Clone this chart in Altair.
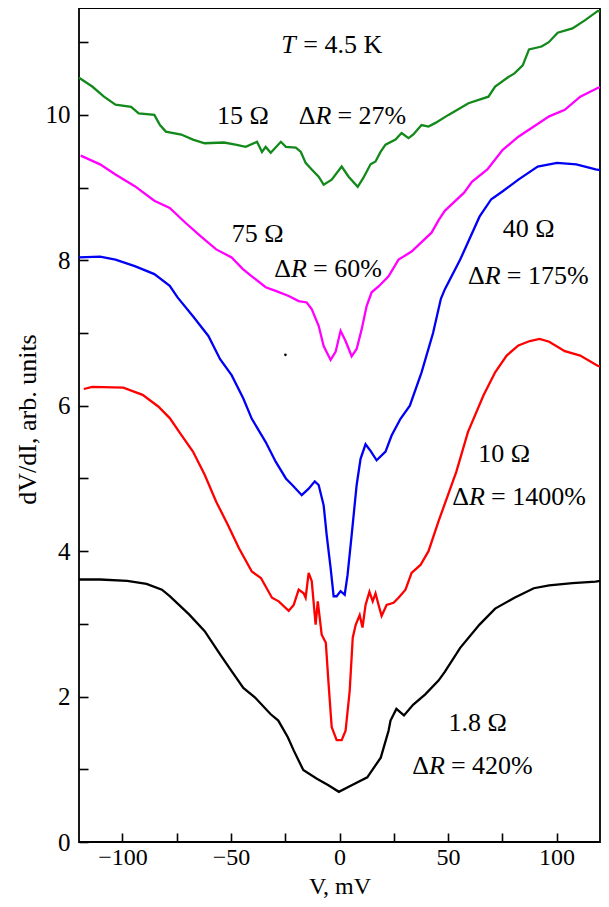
import altair as alt
import pandas as pd

# ---- data (V in mV, dV/dI in arb. units) ----
V_15 = [-120, -113.9, -108.5, -103.2, -96.0, -92.5, -85.3, -82.7, -80.0, -72.9, -67.5, -62.1, -53.2, -47.9,
        -43.2, -38.0, -35.7, -34.0, -31.7, -27.0, -24.7, -20.1, -17.8, -15.6, -12.8, -9.6, -7.3, -3.6, 1.0,
        4.2, 8.4, 11.1, 14.3, 16.6, 18.9, 21.2, 25.8, 28.6, 31.8, 34.0, 37.8, 41.0, 44.2, 50.2, 59.4, 68.6,
        71.7, 77.8, 80.6, 84.4, 87.3, 93.1, 96.4, 100.5, 107.3, 113.0, 119.0, 120]
Y_15 = [10.51, 10.39, 10.25, 10.14, 10.11, 10.02, 10.0, 9.86, 9.77, 9.73, 9.66, 9.61, 9.62, 9.59,
        9.56, 9.63, 9.49, 9.56, 9.48, 9.63, 9.56, 9.55, 9.49, 9.34, 9.25, 9.15, 9.04, 9.11, 9.29,
        9.15, 9.01, 9.14, 9.32, 9.36, 9.49, 9.59, 9.66, 9.75, 9.68, 9.73, 9.86, 9.84, 9.89, 10.0, 10.16, 10.25,
        10.39, 10.52, 10.57, 10.68, 10.9, 10.94, 11.0, 11.13, 11.19, 11.3, 11.43, 11.42]

V_75 = [-119.2, -110.3, -103.2, -94.3, -85.3, -78.2, -71.1, -63.9, -56.8, -49.7, -44.5, -40.4, -34.0, -29.4,
        -23.4, -18.8, -15.1, -12.8, -9.6, -7.3, -4.1, -1.8, 0.5, 2.8, 5.6, 7.9, 10.2, 12.5, 14.8, 18.0, 22.6,
        27.2, 33.2, 37.8, 42.4, 45.6, 48.5, 57.4, 61.0, 68.1, 75.2, 82.4, 89.5, 96.6, 103.8, 110.9, 118.9, 120]
Y_75 = [9.44, 9.32, 9.18, 9.02, 8.82, 8.72, 8.52, 8.33, 8.15, 8.04, 7.88, 7.78, 7.63, 7.58,
        7.51, 7.44, 7.42, 7.33, 7.1, 6.82, 6.63, 6.74, 7.03, 6.89, 6.68, 6.78, 7.05, 7.37, 7.56, 7.64, 7.78,
        8.01, 8.12, 8.25, 8.38, 8.55, 8.68, 8.93, 9.08, 9.25, 9.52, 9.70, 9.84, 9.98, 10.07, 10.25, 10.37, 10.38]

V_40 = [-120, -110.3, -103.2, -94.3, -85.3, -78.2, -74.6, -67.5, -60.4, -55.0, -49.7, -44.3, -40.4, -34.0,
        -29.4, -24.7, -21.1, -17.4, -14.2, -11.4, -9.6, -7.3, -5.9, -4.1, -2.7, -1.3, 0.5, 2.4, 3.7, 5.6, 7.9,
        9.7, 12.0, 14.3, 17.1, 21.2, 24.0, 28.1, 32.4, 37.8, 43.1, 46.7, 48.5, 55.6, 64.5, 69.9, 75.2, 82.4,
        91.3, 100.2, 109.1, 118.0, 120]
Y_40 = [8.04, 8.05, 8.01, 7.92, 7.81, 7.65, 7.49, 7.23, 6.96, 6.64, 6.42, 6.10, 5.82, 5.5,
        5.23, 5.0, 4.89, 4.77, 4.86, 4.96, 4.91, 4.63, 4.22, 3.77, 3.38, 3.38, 3.45, 3.40, 3.67, 4.22, 4.91,
        5.27, 5.47, 5.38, 5.25, 5.37, 5.59, 5.82, 6.0, 6.46, 7.0, 7.47, 7.6, 8.01, 8.6, 8.84, 8.95, 9.11,
        9.29, 9.34, 9.32, 9.25, 9.24]

V_10 = [-117.8, -113.9, -99.6, -90.7, -83.5, -78.2, -72.9, -67.5, -62.1, -56.8, -51.4, -46.3, -40.4, -36.2,
        -31.1, -28.0, -23.4, -21.1, -18.8, -16.5, -15.6, -14.2, -12.8, -11.0, -10.0, -8.2, -6.3, -5.0, -3.6,
        -1.3, 1.0, 2.8, 4.7, 6.1, 7.5, 9.3, 10.6, 12.0, 13.8, 15.3, 16.6, 18.0, 19.4, 21.7, 24.9, 27.2, 30.4,
        33.2, 37.3, 41.0, 45.6, 53.8, 59.2, 66.3, 71.7, 77.0, 82.4, 87.7, 92.2, 96.6, 103.8, 110.9, 118.9, 120]
Y_10 = [6.23, 6.26, 6.25, 6.15, 5.99, 5.83, 5.60, 5.37, 5.05, 4.68, 4.36, 4.04, 3.72, 3.63,
        3.36, 3.31, 3.18, 3.26, 3.47, 3.42, 3.36, 3.70, 3.59, 2.99, 3.31, 2.85, 2.74, 2.16, 1.58,
        1.40, 1.40, 1.53, 2.08, 2.81, 2.99, 3.12, 2.95, 3.26, 3.44, 3.31, 3.42, 3.26, 3.11, 3.26, 3.29, 3.36, 3.47,
        3.70, 3.81, 4.0, 4.41, 5.09, 5.64, 6.14, 6.46, 6.69, 6.83, 6.89, 6.92, 6.88, 6.75, 6.69, 6.55, 6.54]

V_18 = [-120, -110.3, -97.8, -88.9, -81.8, -78.2, -69.3, -62.1, -55.0, -49.7, -44.3, -39.0, -31.8, -28.2,
        -23.8, -21.1, -16.7, -10.4, -5.1, -0.3, 5.6, 12.8, 19.0, 22.6, 23.5, 26.2, 29.7, 34.0, 39.5, 45.6,
        48.5, 55.6, 64.5, 71.7, 80.6, 89.5, 96.6, 107.3, 118.0, 120]
Y_18 = [3.61, 3.61, 3.59, 3.55, 3.47, 3.38, 3.13, 2.90, 2.58, 2.35, 2.12, 1.99, 1.76, 1.67,
        1.44, 1.26, 0.99, 0.87, 0.78, 0.69, 0.78, 0.89, 1.16, 1.53, 1.67, 1.83, 1.74, 1.89, 2.03, 2.22,
        2.34, 2.67, 2.99, 3.21, 3.36, 3.49, 3.53, 3.56, 3.58, 3.59]

SERIES_NAMES = ["15 Ω", "75 Ω", "40 Ω", "10 Ω", "1.8 Ω"]
SERIES_COLORS = ["#12891a", "#ff00ff", "#0000f5", "#ff0000", "#000000"]

# stray dot in the reference
DOT_V = [-24.9]
DOT_Y = [6.70]

# annotations
OMEGA_V = [-44.5, -37.7, 87.1, 75.9, 63.6]
OMEGA_Y = [9.87, 8.25, 8.32, 5.23, 1.52]
DELTA_REST = ["= 27%", "= 60%", "= 175%", "= 1400%", "= 420%"]
DELTA_V = [-11.1, -22.3, 66.9, 59.7, 41.2]
DELTA_Y = [9.87, 7.77, 7.67, 4.63, 0.94]
TEMP_V = -26.8
TEMP_Y = 10.85

X_TICKS = [-100, -75, -50, -25, 0, 25, 50, 75, 100]
X_LABELS = [-100, -50, 0, 50, 100]
Y_TICKS = list(range(0, 12))
Y_LABELS = [0, 2, 4, 6, 8, 10]

# ---- build tables ----
rows = []
for name, vs, ys in zip(SERIES_NAMES, [V_15, V_75, V_40, V_10, V_18], [Y_15, Y_75, Y_40, Y_10, Y_18]):
    assert len(vs) == len(ys), name
    rows += [{"series": name, "V": v, "dVdI": y} for v, y in zip(vs, ys)]
df = pd.DataFrame(rows)

dot_df = pd.DataFrame({"V": DOT_V, "dVdI": DOT_Y})
omega_df = pd.DataFrame({"V": OMEGA_V, "dVdI": OMEGA_Y, "t": SERIES_NAMES})
delta_df = pd.DataFrame({"V": DELTA_V, "dVdI": DELTA_Y, "t": ["Δ"] * 5})
ital_df = pd.DataFrame({"V": DELTA_V + [TEMP_V], "dVdI": DELTA_Y + [TEMP_Y], "t": ["R"] * 5 + ["T"]})
rest_df = pd.DataFrame({"V": DELTA_V + [TEMP_V], "dVdI": DELTA_Y + [TEMP_Y], "t": DELTA_REST + ["= 4.5 K"]})

FONT = "Liberation Serif"
W, H = 521, 834
xs = alt.Scale(domain=[-120, 120], nice=False, zero=False)
ys = alt.Scale(domain=[0, 11.47], nice=False, zero=False)

lines = alt.Chart(df).mark_line(strokeWidth=2.3).encode(
    x=alt.X("V:Q", scale=xs, axis=alt.Axis(
        orient="bottom", values=X_LABELS, ticks=False, tickSize=0, domain=False, grid=False,
        labelFont=FONT, labelFontSize=24, labelColor="black", labelPadding=3,
        title="V, mV", titleFont=FONT, titleFontSize=24, titleFontWeight="normal", titleColor="black",
        titleY=51, titleBaseline="alphabetic")),
    y=alt.Y("dVdI:Q", scale=ys, axis=alt.Axis(
        orient="left", values=Y_LABELS, ticks=False, tickSize=0, domain=False, grid=False,
        labelFont=FONT, labelFontSize=25, labelColor="black", labelPadding=9,
        title="dV/dI, arb. units", titleFont=FONT, titleFontSize=26, titleFontWeight="normal",
        titleColor="black", titleX=-44, titleY=411, titleAngle=270, titleAlign="center",
        titleBaseline="alphabetic")),
    color=alt.Color("series:N", scale=alt.Scale(domain=SERIES_NAMES, range=SERIES_COLORS), legend=None),
)

dot = alt.Chart(dot_df).mark_circle(size=7, color="black", opacity=1).encode(
    x=alt.X("V:Q", scale=xs, axis=alt.Axis(
        orient="top", offset=-H, values=X_TICKS, labels=False, domain=False, grid=False,
        tickSize=9, tickWidth=1.6, tickColor="black", title=None)),
    y=alt.Y("dVdI:Q", scale=ys, axis=alt.Axis(
        orient="right", offset=-W, values=Y_TICKS, labels=False, domain=False, grid=False,
        tickSize=9, tickWidth=1.6, tickColor="black", title=None)),
)

def txt(data, align, style="normal", dx=0):
    return alt.Chart(data).mark_text(
        font=FONT, fontSize=26, fontStyle=style, color="black", align=align,
        baseline="alphabetic", dx=dx,
    ).encode(
        x=alt.X("V:Q", scale=xs, axis=None),
        y=alt.Y("dVdI:Q", scale=ys, axis=None),
        text="t:N",
    )

omega = txt(omega_df, "center")
delta = txt(delta_df, "right")
ital = txt(ital_df, "left", style="italic")
rest = txt(rest_df, "left", dx=22)

chart = alt.layer(lines, dot, omega, delta, ital, rest).resolve_axis(
    x="independent", y="independent"
).properties(
    width=W, height=H,
    autosize=alt.AutoSizeParams(type="none"),
    padding={"left": 71, "top": 0, "right": 1, "bottom": 57},
).configure_view(stroke="black", strokeWidth=1.8)

chart.save("out.html", embed_options={"renderer": "svg", "actions": False})
